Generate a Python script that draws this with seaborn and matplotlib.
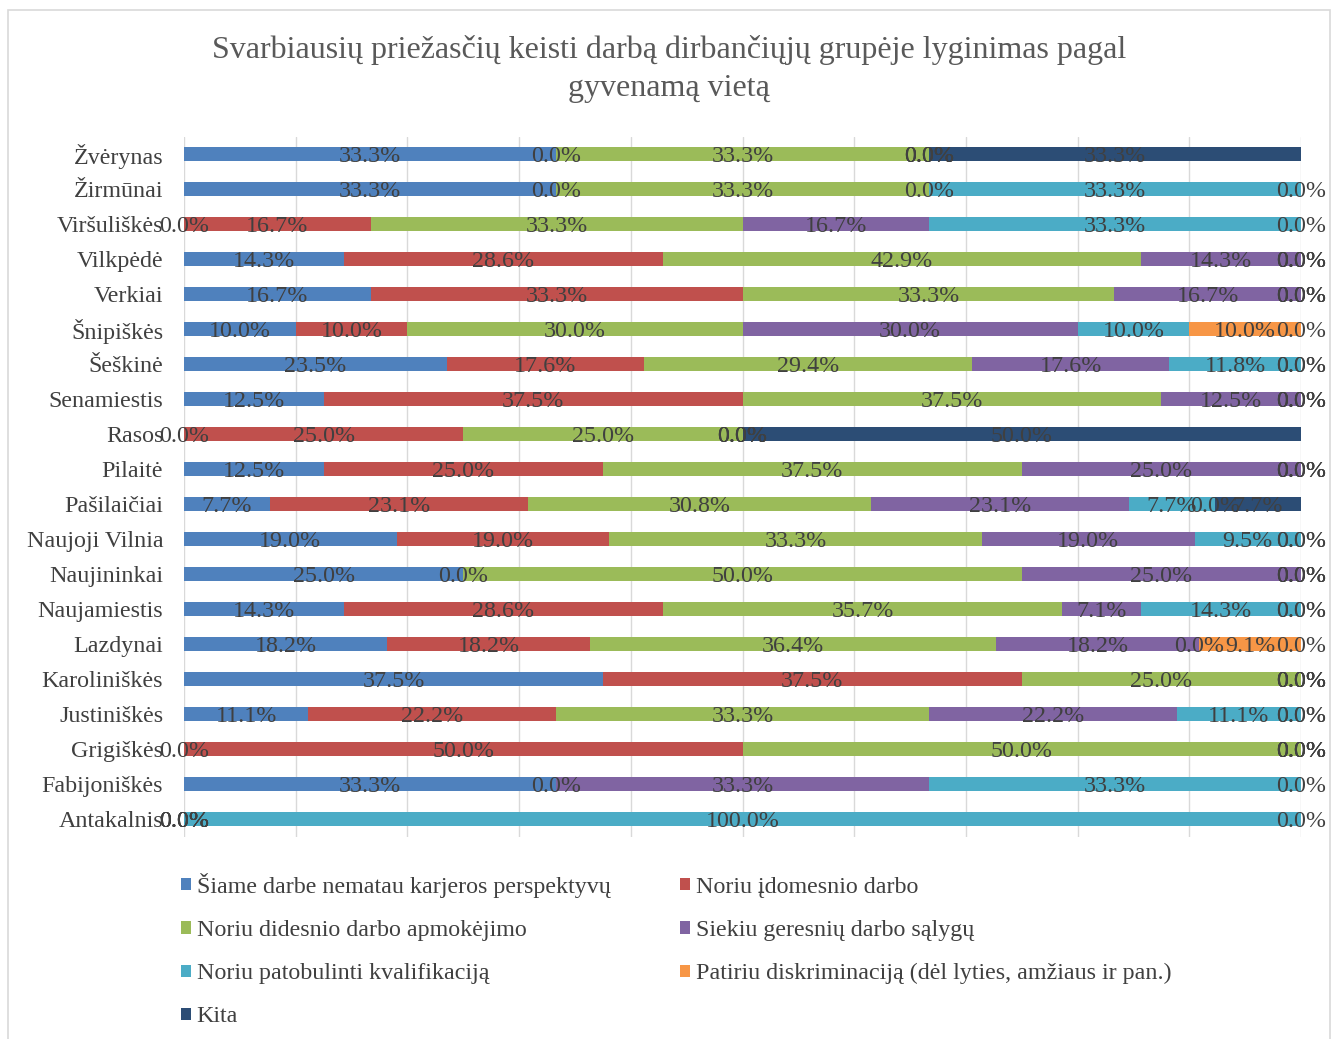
import numpy as np
import pandas as pd
import matplotlib
matplotlib.use("Agg")
import matplotlib.pyplot as plt
from matplotlib.patches import Patch, Rectangle
import seaborn as sns

sns.set_style("white")
plt.rcParams["font.family"] = ["Liberation Serif", "DejaVu Serif"]

nan = np.nan

places = ["Žvėrynas", "Žirmūnai", "Viršuliškės", "Vilkpėdė", "Verkiai", "Šnipiškės",
          "Šeškinė", "Senamiestis", "Rasos", "Pilaitė", "Pašilaičiai", "Naujoji Vilnia",
          "Naujininkai", "Naujamiestis", "Lazdynai", "Karoliniškės", "Justiniškės",
          "Grigiškės", "Fabijoniškės", "Antakalnis"]

reasons = ["Šiame darbe nematau karjeros perspektyvų",
           "Noriu įdomesnio darbo",
           "Noriu didesnio darbo apmokėjimo",
           "Siekiu geresnių darbo sąlygų",
           "Noriu patobulinti kvalifikaciją",
           "Patiriu diskriminaciją (dėl lyties, amžiaus ir pan.)",
           "Kita"]

karjera = [33.3, 33.3, 0.0, 14.3, 16.7, 10.0, 23.5, 12.5, 0.0, 12.5,
           7.7, 19.0, 25.0, 14.3, 18.2, 37.5, 11.1, 0.0, 33.3, 0.0]
idomesnis = [0.0, 0.0, 16.7, 28.6, 33.3, 10.0, 17.6, 37.5, 25.0, 25.0,
             23.1, 19.0, 0.0, 28.6, 18.2, 37.5, 22.2, 50.0, 0.0, 0.0]
apmokejimas = [33.3, 33.3, 33.3, 42.9, 33.3, 30.0, 29.4, 37.5, 25.0, 37.5,
               30.8, 33.3, 50.0, 35.7, 36.4, 25.0, 33.3, 50.0, nan, 0.0]
salygos = [0.0, 0.0, 16.7, 14.3, 16.7, 30.0, 17.6, 12.5, 0.0, 25.0,
           23.1, 19.0, 25.0, 7.1, 18.2, 0.0, 22.2, 0.0, 33.3, 0.0]
kvalifikacija = [0.0, 33.3, 33.3, 0.0, 0.0, 10.0, 11.8, 0.0, 0.0, 0.0,
                 7.7, 9.5, 0.0, 14.3, 0.0, 0.0, 11.1, 0.0, 33.3, 100.0]
diskriminacija = [0.0, 0.0, 0.0, 0.0, 0.0, 10.0, 0.0, 0.0, 0.0, 0.0,
                  0.0, 0.0, 0.0, 0.0, 9.1, 0.0, 0.0, 0.0, 0.0, 0.0]
kita = [33.3, nan, nan, 0.0, 0.0, 0.0, 0.0, 0.0, 50.0, 0.0,
        7.7, 0.0, 0.0, 0.0, 0.0, 0.0, 0.0, 0.0, nan, nan]

colors = ["#4F81BD", "#C0504D", "#9BBB59", "#8064A2", "#4BACC6", "#F79646", "#2C4D75"]

df = pd.DataFrame({"vieta": places})
for name, vals in zip(reasons, [karjera, idomesnis, apmokejimas, salygos,
                                kvalifikacija, diskriminacija, kita]):
    df[name] = vals

# 100% stacked: normalise each row, then cumulative ends of every segment
shares = df[reasons].fillna(0)
shares = shares.div(shares.sum(axis=1), axis=0) * 100
cum = shares.cumsum(axis=1)
cum["vieta"] = df["vieta"]

fig = plt.figure(figsize=(13.38, 10.39), dpi=100)
ax = fig.add_axes([184 / 1338, 1 - 836.5 / 1039, (1301 - 184) / 1338, 700 / 1039])

for name, color in reversed(list(zip(reasons, colors))):
    sns.barplot(data=cum, x=name, y="vieta", order=places, color=color,
                saturation=1, width=0.4, orient="h", ax=ax, linewidth=0)

# data labels, Excel style (zeros shown too)
for i in range(len(places)):
    for name in reasons:
        v = df.loc[i, name]
        if pd.isna(v):
            continue
        xc = cum.loc[i, name] - shares.loc[i, name] / 2
        ax.text(xc, i, f"{v:.1f}%", ha="center", va="center_baseline",
                fontsize=17.3, color="#404040")

ax.set_xlim(0, 100)
ax.set_xticks(np.arange(0, 101, 10))
ax.set_xticklabels([])
ax.grid(axis="x", color="#D9D9D9", linewidth=1)
ax.set_axisbelow(True)
ax.set_xlabel("")
ax.set_ylabel("")
ax.tick_params(axis="both", length=0)
ax.tick_params(axis="y", pad=15, labelsize=17.3, labelcolor="#404040")
sns.despine(ax=ax, left=True, bottom=True)

fig.text(0.5, 1 - 69 / 1039,
         "Svarbiausių priežasčių keisti darbą dirbančiųjų grupėje lyginimas pagal\ngyvenamą vietą",
         ha="center", va="center", fontsize=23, color="#595959", linespacing=1.38)

handles = [Patch(facecolor=c, edgecolor="none") for c in colors]
order = [0, 2, 4, 6, 1, 3, 5]
fig.legend([handles[k] for k in order], [reasons[k] for k in order],
           ncol=2, loc="upper left", bbox_to_anchor=(181 / 1338, 1 - 873 / 1039),
           frameon=False, fontsize=17.3, labelcolor="#404040",
           handlelength=0.4, handleheight=0.4, handletextpad=0.25,
           columnspacing=2.9, labelspacing=0.92, borderpad=0, borderaxespad=0)

fig.patches.append(Rectangle((8 / 1338, -0.01), 1322 / 1338, 1.01 - 10 / 1039,
                             transform=fig.transFigure, fill=False,
                             edgecolor="#D9D9D9", linewidth=1.2))

plt.savefig("out.png", dpi=100)
